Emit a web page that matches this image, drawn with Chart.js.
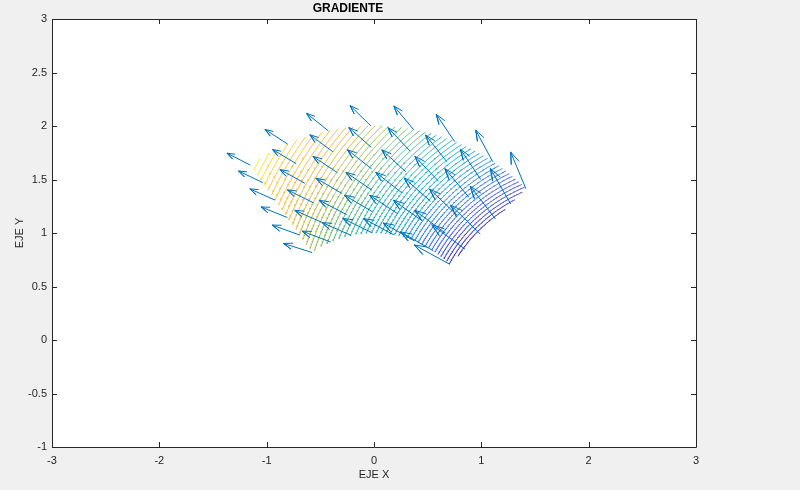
<!DOCTYPE html>
<html>
<head>
<meta charset="utf-8">
<script src="https://cdn.jsdelivr.net/npm/chart.js@4.4.0/dist/chart.umd.min.js"></script>
<style>
  html, body { margin: 0; padding: 0; background: #f0f0f0; }
  #wrap { width: 800px; height: 490px; }
</style>
</head>
<body>
<div id="wrap"><canvas id="grad" width="800" height="490"></canvas></div>
<script>
// malla polar (r, theta) donde se dibujan las flechas
const rValues = [1, 1.2, 1.4, 1.6, 1.8, 2];
const thetaValues = [0.785, 0.985, 1.185, 1.385, 1.585, 1.785, 1.985, 2.185];

// componentes del gradiente, una fila por theta, una columna por r
const arrowU = [
  [-0.333, -0.310, -0.276, -0.235, -0.189, -0.142],
  [-0.308, -0.285, -0.256, -0.224, -0.191, -0.158],
  [-0.292, -0.271, -0.246, -0.221, -0.196, -0.172],
  [-0.282, -0.262, -0.242, -0.222, -0.202, -0.184],
  [-0.275, -0.258, -0.241, -0.225, -0.209, -0.194],
  [-0.271, -0.256, -0.242, -0.228, -0.215, -0.203],
  [-0.268, -0.255, -0.243, -0.231, -0.221, -0.210],
  [-0.267, -0.256, -0.245, -0.235, -0.225, -0.217]
];
const arrowV = [
  [0.182, 0.228, 0.271, 0.306, 0.330, 0.344],
  [0.178, 0.213, 0.244, 0.268, 0.284, 0.295],
  [0.167, 0.194, 0.217, 0.234, 0.247, 0.255],
  [0.152, 0.174, 0.191, 0.205, 0.215, 0.222],
  [0.136, 0.154, 0.167, 0.178, 0.186, 0.191],
  [0.120, 0.133, 0.144, 0.152, 0.159, 0.164],
  [0.102, 0.113, 0.122, 0.128, 0.133, 0.137],
  [0.085, 0.093, 0.100, 0.105, 0.109, 0.112]
];

// curvas de nivel: arcos alrededor de un mismo centro
const contourCenter = [2, 0];
const contourLevels = [
  1.2028, 1.2165, 1.2301, 1.2438, 1.2574, 1.2710, 1.2847, 1.2983, 1.3119, 1.3256,
  1.3392, 1.3528, 1.3665, 1.3801, 1.3937, 1.4074, 1.4210, 1.4346, 1.4483, 1.4619,
  1.4755, 1.4892, 1.5028, 1.5164, 1.5301, 1.5437, 1.5573, 1.5710, 1.5846, 1.5982,
  1.6119, 1.6255, 1.6391, 1.6528, 1.6664, 1.6800, 1.6937, 1.7073, 1.7209, 1.7346,
  1.7482, 1.7618, 1.7755, 1.7891, 1.8027, 1.8164, 1.8300, 1.8436, 1.8573, 1.8709
];
const contourRadii = [
  1.447, 1.480, 1.513, 1.547, 1.581, 1.615, 1.650, 1.686, 1.721, 1.757,
  1.793, 1.830, 1.867, 1.905, 1.942, 1.981, 2.019, 2.058, 2.097, 2.137,
  2.177, 2.218, 2.258, 2.300, 2.341, 2.383, 2.425, 2.468, 2.511, 2.554,
  2.598, 2.642, 2.687, 2.732, 2.777, 2.823, 2.869, 2.915, 2.962, 3.009,
  3.056, 3.104, 3.152, 3.201, 3.250, 3.299, 3.349, 3.399, 3.449, 3.500
];
const colorLimits = [1.189, 1.885];

const xTicks = [-3, -2, -1, 0, 1, 2, 3];
const yTicks = [-1, -0.5, 0, 0.5, 1, 1.5, 2, 2.5, 3];

// parula aproximado: [posicion, r, g, b]
const parula = [
  [0.00, 62, 38, 168], [0.12, 70, 90, 245], [0.25, 35, 135, 230], [0.37, 10, 170, 205],
  [0.50, 40, 186, 166], [0.62, 130, 192, 106], [0.72, 205, 187, 75], [0.80, 245, 186, 60],
  [0.90, 253, 200, 48], [1.00, 249, 251, 14]
];
function parulaColor(t) {
  t = Math.min(1, Math.max(0, t));
  let i = 0;
  while (i < parula.length - 2 && t > parula[i + 1][0]) i++;
  const a = parula[i], b = parula[i + 1];
  const f = (t - a[0]) / (b[0] - a[0]);
  return 'rgb(' + [1, 2, 3].map(k => Math.round(a[k] + (b[k] - a[k]) * f)).join(',') + ')';
}

const rMin = rValues[0], rMax = rValues[rValues.length - 1];
const tMin = thetaValues[0], tMax = thetaValues[thetaValues.length - 1];

function insideMesh(p) {
  const r = Math.hypot(p.x, p.y), t = Math.atan2(p.y, p.x);
  return r >= rMin && r <= rMax && t >= tMin && t <= tMax;
}
function arcPoint(rho, phi) {
  return { x: contourCenter[0] + rho * Math.cos(phi), y: contourCenter[1] + rho * Math.sin(phi) };
}
function edgePoint(rho, a, b) {
  const inA = insideMesh(arcPoint(rho, a));
  for (let k = 0; k < 24; k++) {
    const m = (a + b) / 2;
    if (insideMesh(arcPoint(rho, m)) === inA) a = m; else b = m;
  }
  return arcPoint(rho, (a + b) / 2);
}
// trozos del arco que quedan dentro de la malla
function contourPieces(rho) {
  const pieces = [];
  const n = 1800;
  let cur = null, prevPhi = null;
  for (let i = 0; i <= n; i++) {
    const phi = Math.PI / 2 + (Math.PI / 2) * i / n;
    const p = arcPoint(rho, phi);
    if (insideMesh(p)) {
      if (!cur) cur = prevPhi === null ? [] : [edgePoint(rho, prevPhi, phi)];
      if (i % 6 === 0) cur.push(p);
    } else if (cur) {
      cur.push(edgePoint(rho, prevPhi, phi));
      pieces.push(cur);
      cur = null;
    }
    prevPhi = phi;
  }
  if (cur) pieces.push(cur);
  return pieces;
}

const datasets = [];

contourRadii.forEach((rho, k) => {
  const col = parulaColor((contourLevels[k] - colorLimits[0]) / (colorLimits[1] - colorLimits[0]));
  contourPieces(rho).forEach(pts => {
    datasets.push({
      data: pts, showLine: true, borderColor: col, borderWidth: 1,
      pointRadius: 0, pointHoverRadius: 0, order: 2
    });
  });
});

// flechas del gradiente (quiver)
const headLen = 0.3, headWide = 0.35;
thetaValues.forEach((t, i) => {
  rValues.forEach((r, j) => {
    const x = r * Math.cos(t), y = r * Math.sin(t);
    const u = arrowU[i][j], v = arrowV[i][j];
    const tip = { x: x + u, y: y + v };
    const left = { x: tip.x - headLen * (u + headWide * v), y: tip.y - headLen * (v - headWide * u) };
    const right = { x: tip.x - headLen * (u - headWide * v), y: tip.y - headLen * (v + headWide * u) };
    datasets.push({
      data: [{ x: x, y: y }, tip, left, tip, right],
      showLine: true, borderColor: 'rgb(0,114,189)', borderWidth: 1,
      pointRadius: 0, pointHoverRadius: 0, order: 1
    });
  });
});

const axisColor = '#262626';
const fontFam = '"Liberation Sans", Arial, Helvetica, sans-serif';

const matlabFrame = {
  id: 'matlabFrame',
  beforeDraw(chart) {
    const { ctx, chartArea: a } = chart;
    ctx.save();
    ctx.fillStyle = '#f0f0f0';
    ctx.fillRect(0, 0, chart.width, chart.height);
    ctx.fillStyle = '#ffffff';
    ctx.fillRect(a.left, a.top, a.right - a.left, a.bottom - a.top);
    ctx.restore();
  },
  afterDatasetsDraw(chart) {
    const { ctx, chartArea: a, scales } = chart;
    const tl = 5;
    ctx.save();
    ctx.strokeStyle = axisColor;
    ctx.lineWidth = 1;
    ctx.beginPath();
    ctx.rect(Math.round(a.left) + 0.5, Math.round(a.top) + 0.5,
      Math.round(a.right - a.left), Math.round(a.bottom - a.top));
    xTicks.forEach(v => {
      const px = Math.round(scales.x.getPixelForValue(v)) + 0.5;
      ctx.moveTo(px, a.bottom); ctx.lineTo(px, a.bottom - tl);
      ctx.moveTo(px, a.top); ctx.lineTo(px, a.top + tl);
    });
    yTicks.forEach(v => {
      const py = Math.round(scales.y.getPixelForValue(v)) + 0.5;
      ctx.moveTo(a.left, py); ctx.lineTo(a.left + tl, py);
      ctx.moveTo(a.right, py); ctx.lineTo(a.right - tl, py);
    });
    ctx.stroke();
    ctx.restore();
  }
};

const fmt = v => String(Math.round(v * 10) / 10);

new Chart(document.getElementById('grad'), {
  type: 'scatter',
  data: { datasets: datasets },
  options: {
    responsive: false,
    animation: false,
    events: [],
    layout: { padding: { left: 0, right: 104, top: 0, bottom: 0 } },
    plugins: {
      legend: { display: false },
      tooltip: { enabled: false },
      title: {
        display: true, text: 'GRADIENTE', color: '#000',
        font: { family: fontFam, size: 12, weight: 'bold' },
        padding: { top: 1, bottom: 3.6 }
      }
    },
    scales: {
      x: {
        type: 'linear', min: -3, max: 3,
        afterBuildTicks: s => { s.ticks = xTicks.map(v => ({ value: v })); },
        grid: { display: false, drawTicks: false },
        border: { display: false },
        ticks: { color: axisColor, font: { family: fontFam, size: 11 }, padding: 7, callback: fmt, maxRotation: 0 },
        title: { display: true, text: 'EJE X', color: axisColor, font: { family: fontFam, size: 11 }, padding: { top: 0, bottom: 8.4 } },
        afterFit: s => { s.height = 43; s.paddingLeft = 0; s.paddingRight = 0; }
      },
      y: {
        type: 'linear', min: -1, max: 3,
        afterBuildTicks: s => { s.ticks = yTicks.map(v => ({ value: v })); },
        grid: { display: false, drawTicks: false },
        border: { display: false },
        ticks: { color: axisColor, font: { family: fontFam, size: 11 }, padding: 5, callback: fmt },
        title: { display: true, text: 'EJE Y', color: axisColor, font: { family: fontFam, size: 11 }, padding: { top: 13.4, bottom: 0 } },
        afterFit: s => { s.width = 52; s.paddingTop = 0; s.paddingBottom = 0; }
      }
    }
  },
  plugins: [matlabFrame]
});
</script>
</body>
</html>
